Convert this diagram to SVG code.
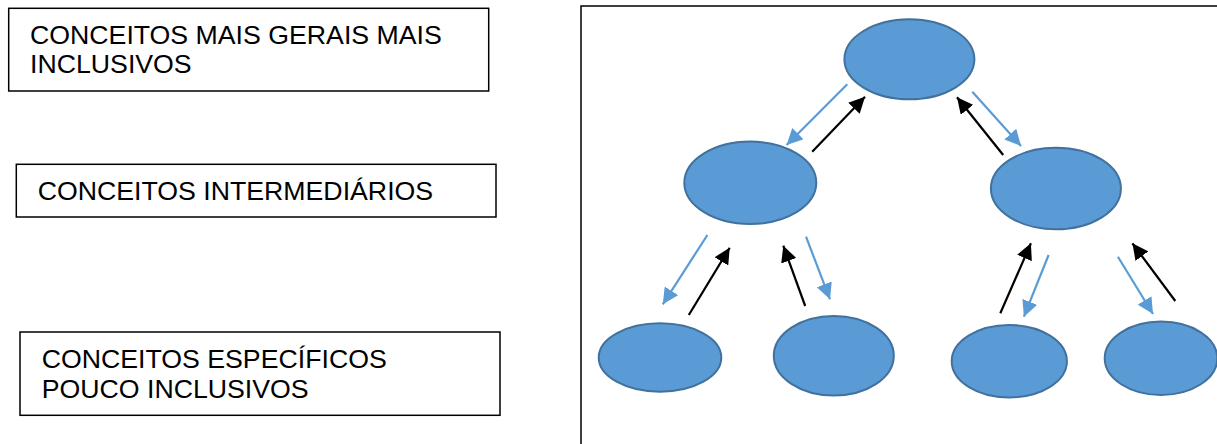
<svg xmlns="http://www.w3.org/2000/svg" width="1217" height="444" viewBox="0 0 1217 444">
<style>
.box{fill:#fff;stroke:#000;stroke-width:1.5}
.lbl{font-family:"Liberation Sans",Arial,sans-serif;font-size:26.7px;fill:#000}
.node{fill:#5B9BD5;stroke:#41719C;stroke-width:2}
.blue{stroke:#5B9BD5;stroke-width:2.2;fill:none;marker-end:url(#hb)}
.black{stroke:#000;stroke-width:2.2;fill:none;marker-end:url(#hk)}
</style>
<defs>
<marker id="hb" markerUnits="userSpaceOnUse" viewBox="0 0 12 12" refX="12" refY="6" markerWidth="16" markerHeight="16" orient="auto"><path d="M0,0 L12,6 L0,12 Z" fill="#5B9BD5"/></marker>
<marker id="hk" markerUnits="userSpaceOnUse" viewBox="0 0 12 12" refX="12" refY="6" markerWidth="16" markerHeight="16" orient="auto"><path d="M0,0 L12,6 L0,12 Z" fill="#000"/></marker>
</defs>
<rect width="1217" height="444" fill="#fff"/>
<g id="label-gerais"><rect class="box" x="8.7" y="8.3" width="480" height="82.7"/><text class="lbl" x="30" y="44">CONCEITOS MAIS GERAIS MAIS</text><text class="lbl" x="30" y="73.3">INCLUSIVOS</text></g>
<g id="label-intermediarios"><rect class="box" x="16.3" y="164.3" width="479.7" height="52.7"/><text class="lbl" x="37.7" y="200">CONCEITOS INTERMEDIÁRIOS</text></g>
<g id="label-especificos"><rect class="box" x="20" y="332" width="480" height="83.3"/><text class="lbl" x="41.7" y="367.7">CONCEITOS ESPECÍFICOS</text><text class="lbl" x="41.7" y="397.7">POUCO INCLUSIVOS</text></g>
<g id="frame"><rect x="581" y="6" width="700" height="500" fill="none" stroke="#000" stroke-width="1.5"/></g>
<g id="n-top"><ellipse class="node" cx="909.4" cy="59.3" rx="65" ry="40"/></g>
<g id="n-mid-left"><ellipse class="node" cx="750.3" cy="182.8" rx="66" ry="41.2"/></g>
<g id="n-mid-right"><ellipse class="node" cx="1055.9" cy="188.5" rx="65" ry="40.8"/></g>
<g id="n-bot-1"><ellipse class="node" cx="660" cy="357.5" rx="61.3" ry="34.2"/></g>
<g id="n-bot-2"><ellipse class="node" cx="833.8" cy="355.8" rx="60" ry="39.8"/></g>
<g id="n-bot-3"><ellipse class="node" cx="1009.3" cy="361.2" rx="57.6" ry="36.2"/></g>
<g id="n-bot-4"><ellipse class="node" cx="1161" cy="358.3" rx="56.3" ry="36.7"/></g>
<g id="connectors">
<line class="blue" x1="847.3" y1="84.3" x2="786.6" y2="145"/>
<line class="black" x1="812.2" y1="151.7" x2="865" y2="96.7"/>
<line class="black" x1="1003.2" y1="155" x2="957" y2="97.3"/>
<line class="blue" x1="972.3" y1="91.7" x2="1021" y2="146"/>
<line class="blue" x1="707.4" y1="235" x2="662.8" y2="304.3"/>
<line class="black" x1="688.8" y1="315" x2="729.7" y2="247.7"/>
<line class="black" x1="805.2" y1="306" x2="783.3" y2="245.7"/>
<line class="blue" x1="806" y1="236.7" x2="830" y2="299.3"/>
<line class="black" x1="1000.3" y1="313.3" x2="1030.9" y2="243.3"/>
<line class="blue" x1="1048.6" y1="255" x2="1023.9" y2="316.7"/>
<line class="blue" x1="1117.9" y1="256.7" x2="1153" y2="314"/>
<line class="black" x1="1175.3" y1="301" x2="1132.4" y2="243.3"/>
</g>
</svg>
